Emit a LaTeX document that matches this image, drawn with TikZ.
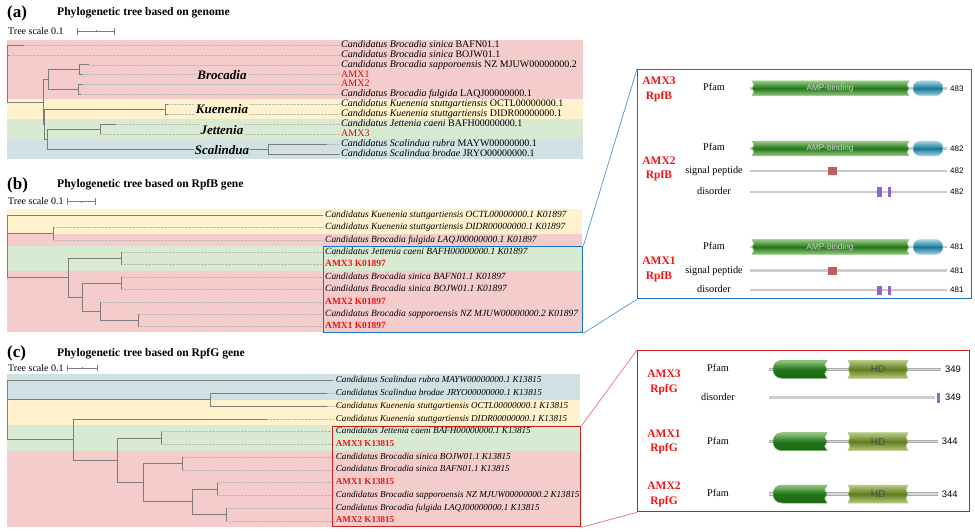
\documentclass[tikz,border=0pt]{standalone}
\usepackage{fontspec}
\setmainfont{Liberation Serif}
\newfontfamily\arialfont{Liberation Sans}
\usetikzlibrary{positioning}

\definecolor{bandpink}{RGB}{244,204,204}
\definecolor{bandyel}{RGB}{255,242,204}
\definecolor{bandgrn}{RGB}{217,234,211}
\definecolor{bandblu}{RGB}{208,224,227}
\definecolor{brgray}{RGB}{125,125,125}
\definecolor{amxdark}{RGB}{215,10,10}
\definecolor{amxred}{RGB}{240,20,20}
\definecolor{boxblue}{RGB}{25,115,195}
\definecolor{linkblue}{RGB}{80,150,215}
\definecolor{boxred}{RGB}{200,35,35}
\definecolor{linkred}{RGB}{225,115,115}
\definecolor{pfdark}{RGB}{34,118,26}
\definecolor{pflight}{RGB}{150,200,130}
\definecolor{tealdark}{RGB}{25,120,150}
\definecolor{teallight}{RGB}{160,210,225}
\definecolor{hddark}{RGB}{95,125,30}
\definecolor{hdlight}{RGB}{185,200,130}
\definecolor{sigred}{RGB}{190,95,95}
\definecolor{dispurple}{RGB}{150,100,200}

\tikzset{
  branch/.style={draw=brgray, line width=0.7pt},
  guide/.style={draw=black!28, densely dotted, line width=0.4pt, shorten >=1.5pt},
  leafa/.style={anchor=west, inner sep=0pt, text height=6.8pt, text depth=2pt, font=\fontsize{10}{10}\selectfont},
  amxa/.style={leafa, text=amxdark},
  leafb/.style={anchor=west, inner sep=0pt, text height=6.5pt, text depth=2pt, font=\fontsize{9.45}{10}\selectfont\itshape},
  amxb/.style={leafb, text=amxred, font=\fontsize{9.45}{10}\selectfont\bfseries},
  leafc/.style={anchor=west, inner sep=0pt, text height=6.3pt, text depth=2pt, font=\fontsize{9.1}{10}\selectfont\itshape},
  amxc/.style={leafc, text=amxred, font=\fontsize{9.1}{10}\selectfont\bfseries},
  panellab/.style={anchor=west, inner sep=0pt, font=\fontsize{17}{17}\selectfont\bfseries},
  paneltitle/.style={anchor=west, inner sep=0pt, font=\fontsize{11.6}{12}\selectfont\bfseries},
  scaletxt/.style={anchor=west, inner sep=0pt, font=\fontsize{10}{10}\selectfont},
  scalebar/.style={draw=brgray, line width=0.6pt, |-|},
  clade/.style={inner sep=1pt, font=\fontsize{13}{13}\selectfont\bfseries\itshape},
  selbox/.style={draw, line width=1.3pt, inner sep=0pt, anchor=north west},
  link/.style={line width=0.7pt},
  protname/.style={align=center, text=amxred, inner sep=0pt, font=\fontsize{11.5}{14.5}\selectfont\bfseries},
  rowlab/.style={inner sep=0pt, text height=7pt, text depth=2pt, font=\fontsize{10.3}{11}\selectfont},
  seqline/.style={draw=black!20, line width=2.6pt},
  seqdouble/.style={draw=black!33, double=black!15, double distance=1.4pt, line width=0.9pt},
  ampdom/.style={draw=pflight, line width=0.5pt, top color=pflight, bottom color=pflight, middle color=pfdark},
  tealdom/.style={draw=teallight, line width=0.5pt, rounded corners=7pt, top color=teallight, bottom color=teallight, middle color=tealdark},
  pfgdom/.style={draw=pflight!70!pfdark, line width=0.5pt, top color=pflight, bottom color=pfdark!85!black, middle color=pfdark},
  hddom/.style={draw=hdlight, line width=0.5pt, top color=hdlight, bottom color=hdlight, middle color=hddark},
  domtxt/.style={inner sep=0pt, text=white!82!black, font=\arialfont\fontsize{8.2}{9}\selectfont},
  hdtxt/.style={inner sep=0pt, text=black!70, font=\arialfont\fontsize{10}{10}\selectfont},
  seqnum/.style={anchor=west, inner sep=0pt, font=\arialfont\fontsize{8}{9}\selectfont},
  seqnumg/.style={anchor=west, inner sep=0pt, font=\arialfont\fontsize{9.4}{10}\selectfont},
}

% domain with jagged ends: style, x left, x right, y, half height
\newcommand{\zigdom}[5]{%
  \path[#1] (#2,#4-#5) -- (#3,#4-#5) -- ++(-2,#5/2) -- ++(2,#5/2) -- ++(-2,#5/2) -- ++(2,#5/2)
    -- (#2,#4+#5) -- ++(2,-#5/2) -- ++(-2,-#5/2) -- ++(2,-#5/2) -- cycle;}
% RpfB rows: y, length, name
\newcommand{\ampbar}[3]{%
  \draw[seqline] (750,#1) -- (947,#1);
  \zigdom{ampdom}{752}{909}{#1}{7.3}
  \path[tealdom] (913,#1-7.3) rectangle (943,#1+7.3);
  \node[domtxt] (#3t) at (830,#1) {AMP-binding};
  \node[seqnum] (#3n) at (950,#1) {#2};}
\newcommand{\sigbar}[3]{%
  \draw[seqline] (750,#1) -- (947,#1);
  \fill[sigred] (828,#1-4) rectangle (837,#1+4);
  \node[seqnum] (#3n) at (950,#1) {#2};}
\newcommand{\disbar}[3]{%
  \draw[seqline] (750,#1) -- (947,#1);
  \fill[dispurple] (877,#1-4.5) rectangle (882,#1+4.5);
  \fill[dispurple] (887.5,#1-4.5) rectangle (890.5,#1+4.5);
  \node[seqnum] (#3n) at (950,#1) {#2};}
% RpfG rows: y, length, x of length, name
\newcommand{\hdbar}[4]{%
  \draw[seqdouble] (769,#1) -- (#3-4,#1);
  \path[pfgdom] (827,#1-9) -- (782,#1-9) .. controls (770,#1-9) and (770,#1+9) .. (782,#1+9)
    -- (827,#1+9) -- (824.5,#1+4.5) -- (827,#1) -- (824.5,#1-4.5) -- cycle;
  \zigdom{hddom}{848}{908}{#1}{9}
  \node[hdtxt] (#4t) at (878,#1) {HD};
  \node[seqnumg] (#4n) at (#3,#1) {#2};}

\begin{document}
\begin{tikzpicture}[x=1pt,y=-1pt]
  \useasboundingbox (0,0) rectangle (975,532);

  % (a) genome tree
  \fill[bandpink] (7,40) rectangle (583,99.4);
  \fill[bandyel] (7,99.4) rectangle (583,119.2);
  \fill[bandgrn] (7,119.2) rectangle (583,139);
  \fill[bandblu] (7,139) rectangle (583,158.8);

  \node[panellab] (pa) at (7,13) {(a)};
  \node[paneltitle] (ha) at (57,13) {Phylogenetic tree based on genome};
  \node[scaletxt] (sa) at (8,31.5) {Tree scale 0.1};
  \draw[scalebar] (77,31.5) -- (115,31.5);
  \draw[branch, line width=0.5pt] (96,30.5) -- (96,32.5);

  \node[leafa] (ta0) at (341,45) {\textit{Candidatus Brocadia sinica} BAFN01.1};
  \node[leafa] (ta1) at (341,54.9) {\textit{Candidatus Brocadia sinica} BOJW01.1};
  \node[leafa] (ta2) at (341,64.8) {\textit{Candidatus Brocadia sapporoensis} NZ MJUW00000000.2};
  \node[amxa] (ta3) at (341,74.7) {AMX1};
  \node[amxa] (ta4) at (341,84.6) {AMX2};
  \node[leafa] (ta5) at (341,94.5) {\textit{Candidatus Brocadia fulgida} LAQJ00000000.1};
  \node[leafa] (ta6) at (341,104.4) {\textit{Candidatus Kuenenia stuttgartiensis} OCTL00000000.1};
  \node[leafa] (ta7) at (341,114.3) {\textit{Candidatus Kuenenia stuttgartiensis} DIDR00000000.1};
  \node[leafa] (ta8) at (341,124.2) {\textit{Candidatus Jettenia caeni} BAFH00000000.1};
  \node[amxa] (ta9) at (341,134.1) {AMX3};
  \node[leafa] (ta10) at (341,144) {\textit{Candidatus Scalindua rubra} MAYW00000000.1};
  \node[leafa] (ta11) at (341,153.9) {\textit{Candidatus Scalindua brodae} JRYO00000000.1};

  \coordinate (ar) at (7,73.45);
  \coordinate (la0) at (24,45);
  \coordinate (la1) at (9,54.9);
  \coordinate (an1) at (43,101.9);
  \coordinate (abr) at (48,79.65);
  \coordinate (ab1) at (79,69.75);
  \coordinate (ab2) at (78,89.55);
  \coordinate (la2) at (89,64.8);
  \coordinate (la3) at (83,74.7);
  \coordinate (la4) at (83,84.6);
  \coordinate (la5) at (81,94.5);
  \coordinate (an2) at (44.5,124.2);
  \coordinate (aku) at (165,109.35);
  \coordinate (la6) at (168,104.4);
  \coordinate (la7) at (168,114.3);
  \coordinate (an3) at (47,139.05);
  \coordinate (aje) at (100,129.15);
  \coordinate (la8) at (116,124.2);
  \coordinate (la9) at (100,134.1);
  \coordinate (asc) at (268,148.95);
  \coordinate (la10) at (327,144);
  \coordinate (la11) at (339,153.9);

  \foreach \i in {0,...,11}
    \draw[guide] (la\i) -- (ta\i.west);
  \draw[branch] (ar) |- (la0) (ar) |- (la1) (ar) |- (an1)
    (an1) |- (abr) (an1) |- (an2)
    (abr) |- (ab1) (abr) |- (ab2)
    (ab1) |- (la2) (ab1) |- (la3) (ab2) |- (la4) (ab2) |- (la5)
    (an2) |- (aku) (an2) |- (an3)
    (aku) |- (la6) (aku) |- (la7)
    (an3) |- (aje) (an3) |- (asc)
    (aje) |- (la8) (aje) |- (la9)
    (asc) |- (la10) (asc) |- (la11);

  \node[clade, fill=bandpink] (cbro) at (222,75) {Brocadia};
  \node[clade, fill=bandyel] (ckue) at (222,109.3) {Kuenenia};
  \node[clade, fill=bandgrn] (cjet) at (222,130) {Jettenia};
  \node[clade, fill=bandblu] (csca) at (222,150) {Scalindua};

  % (b) RpfB tree
  \fill[bandyel] (7,208.8) rectangle (582,233.6);
  \fill[bandpink] (7,233.6) rectangle (582,246);
  \fill[bandgrn] (7,246) rectangle (582,270.8);
  \fill[bandpink] (7,270.8) rectangle (582,332.4);

  \node[panellab] (pb) at (7,185) {(b)};
  \node[paneltitle] (hb) at (57,185) {Phylogenetic tree based on RpfB gene};
  \node[scaletxt] (sb) at (8,201.5) {Tree scale 0.1};
  \draw[scalebar] (67,201.5) -- (96,201.5);
  \draw[branch, line width=0.5pt] (81.5,200.5) -- (81.5,202.5);

  \node[leafb] (tb0) at (325,215) {Candidatus Kuenenia stuttgartiensis OCTL00000000.1 K01897};
  \node[leafb] (tb1) at (325,227.4) {Candidatus Kuenenia stuttgartiensis DIDR00000000.1 K01897};
  \node[leafb] (tb2) at (325,239.8) {Candidatus Brocadia fulgida LAQJ00000000.1 K01897};
  \node[leafb] (tb3) at (325,252.2) {Candidatus Jettenia caeni BAFH00000000.1 K01897};
  \node[amxb] (tb4) at (325,264.6) {AMX3 K01897};
  \node[leafb] (tb5) at (325,277) {Candidatus Brocadia sinica BAFN01.1 K01897};
  \node[leafb] (tb6) at (325,289.4) {Candidatus Brocadia sinica BOJW01.1 K01897};
  \node[amxb] (tb7) at (325,301.8) {AMX2 K01897};
  \node[leafb] (tb8) at (325,314.2) {Candidatus Brocadia sapporoensis NZ MJUW00000000.2 K01897};
  \node[amxb] (tb9) at (325,326.6) {AMX1 K01897};

  \coordinate (br) at (7,246.4);
  \coordinate (lb0) at (323,215);
  \coordinate (bp1) at (53,233.6);
  \coordinate (lb1) at (53,227.4);
  \coordinate (lb2) at (53,239.8);
  \coordinate (bp2) at (68,277.8);
  \coordinate (bje) at (121,258.4);
  \coordinate (lb3) at (121,252.2);
  \coordinate (lb4) at (121,264.6);
  \coordinate (bp3) at (82,297.15);
  \coordinate (bsi) at (121,283.2);
  \coordinate (lb5) at (121,277);
  \coordinate (lb6) at (121,289.4);
  \coordinate (bp4) at (100,311.1);
  \coordinate (lb7) at (100,301.8);
  \coordinate (bp5) at (138,320.4);
  \coordinate (lb8) at (138,314.2);
  \coordinate (lb9) at (138,326.6);

  \foreach \i in {1,...,9}
    \draw[guide] (lb\i) -- (tb\i.west);
  \draw[branch] (br) |- (lb0) (br) |- (bp1) (br) |- (bp2)
    (bp1) |- (lb1) (bp1) |- (lb2)
    (bp2) |- (bje) (bp2) |- (bp3)
    (bje) |- (lb3) (bje) |- (lb4)
    (bp3) |- (bsi) (bp3) |- (bp4)
    (bsi) |- (lb5) (bsi) |- (lb6)
    (bp4) |- (lb7) (bp4) |- (bp5)
    (bp5) |- (lb8) (bp5) |- (lb9);

  % (c) RpfG tree
  \fill[bandblu] (7,374.3) rectangle (580,399.8);
  \fill[bandyel] (7,399.8) rectangle (580,425.3);
  \fill[bandgrn] (7,425.3) rectangle (580,450.8);
  \fill[bandpink] (7,450.8) rectangle (580,527.1);

  \node[panellab] (pc) at (7,353.3) {(c)};
  \node[paneltitle] (hc) at (57,354) {Phylogenetic tree based on RpfG gene};
  \node[scaletxt] (sc) at (8,368) {Tree scale 0.1};
  \draw[scalebar] (67,368) -- (98,368);
  \draw[branch, line width=0.5pt] (82.5,367) -- (82.5,369);

  \node[leafc] (tc0) at (335.7,380.7) {Candidatus Scalindua rubra MAYW00000000.1 K13815};
  \node[leafc] (tc1) at (335.7,393.43) {Candidatus Scalindua brodae JRYO00000000.1 K13815};
  \node[leafc] (tc2) at (335.7,406.16) {Candidatus Kuenenia stuttgartiensis OCTL00000000.1 K13815};
  \node[leafc] (tc3) at (335.7,418.89) {Candidatus Kuenenia stuttgartiensis DIDR00000000.1 K13815};
  \node[leafc] (tc4) at (335.7,431.62) {Candidatus Jettenia caeni BAFH00000000.1 K13815};
  \node[amxc] (tc5) at (335.7,444.35) {AMX3 K13815};
  \node[leafc] (tc6) at (335.7,457.08) {Candidatus Brocadia sinica BOJW01.1 K13815};
  \node[leafc] (tc7) at (335.7,469.81) {Candidatus Brocadia sinica BAFN01.1 K13815};
  \node[amxc] (tc8) at (335.7,482.54) {AMX1 K13815};
  \node[leafc] (tc9) at (335.7,495.27) {Candidatus Brocadia sapporoensis NZ MJUW00000000.2 K13815};
  \node[leafc] (tc10) at (335.7,508) {Candidatus Brocadia fulgida LAQJ00000000.1 K13815};
  \node[amxc] (tc11) at (335.7,520.73) {AMX2 K13815};

  \coordinate (cr) at (7,410.15);
  \coordinate (lc0) at (333,380.7);
  \coordinate (cq1) at (210,399.8);
  \coordinate (lc1) at (327,393.43);
  \coordinate (lc2) at (327,406.16);
  \coordinate (cq2) at (73,439.6);
  \coordinate (lc3) at (267,418.89);
  \coordinate (cq3) at (117,460.25);
  \coordinate (cje) at (161,438);
  \coordinate (lc4) at (161,431.62);
  \coordinate (lc5) at (161,444.35);
  \coordinate (cq4) at (143,482.5);
  \coordinate (csi) at (182,463.45);
  \coordinate (lc6) at (182,457.08);
  \coordinate (lc7) at (182,469.81);
  \coordinate (cq5) at (192,501.6);
  \coordinate (cr3) at (217,488.9);
  \coordinate (lc8) at (217,482.54);
  \coordinate (lc9) at (217,495.27);
  \coordinate (cr4) at (226,514.35);
  \coordinate (lc10) at (226,508);
  \coordinate (lc11) at (226,520.73);

  \foreach \i in {1,...,11}
    \draw[guide] (lc\i) -- (tc\i.west);
  \draw[branch] (cr) |- (lc0) (cr) |- (cq1) (cr) |- (cq2)
    (cq1) |- (lc1) (cq1) |- (lc2)
    (cq2) |- (lc3) (cq2) |- (cq3)
    (cq3) |- (cje) (cq3) |- (cq4)
    (cje) |- (lc4) (cje) |- (lc5)
    (cq4) |- (csi) (cq4) |- (cq5)
    (csi) |- (lc6) (csi) |- (lc7)
    (cq5) |- (cr3) (cq5) |- (cr4)
    (cr3) |- (lc8) (cr3) |- (lc9)
    (cr4) |- (lc10) (cr4) |- (lc11);

  % selection boxes and zoom panels
  \node[selbox, draw=boxblue, minimum width=259pt, minimum height=86pt] (bsel) at (323,246) {};
  \node[selbox, draw=boxblue, minimum width=334pt, minimum height=229pt] (bdom) at (637,69) {};
  \draw[link, linkblue] (bsel.north east) -- (bdom.north west)
    (bsel.south east) -- (bdom.south west);
  \node[selbox, draw=boxred, minimum width=248pt, minimum height=100pt] (csel) at (332,426) {};
  \node[selbox, draw=boxred, minimum width=332pt, minimum height=161pt] (cdom) at (637,350) {};
  \draw[link, linkred] (csel.north east) -- (cdom.north west)
    (csel.south east) -- (cdom.south west);

  % RpfB domains
  \node[protname] (n3b) at (659,89.2) {AMX3\\RpfB};
  \node[rowlab] (r3bp) at (714,88.3) {Pfam};
  \ampbar{88.3}{483}{p3b}

  \node[protname] (n2b) at (659,169) {AMX2\\RpfB};
  \node[rowlab] (r2bp) at (714,148.5) {Pfam};
  \node[rowlab] (r2bs) at (714,171) {signal peptide};
  \node[rowlab] (r2bd) at (714,192) {disorder};
  \ampbar{148.5}{482}{p2b}
  \sigbar{171}{482}{s2b}
  \disbar{192}{482}{d2b}

  \node[protname] (n1b) at (659,269.5) {AMX1\\RpfB};
  \node[rowlab] (r1bp) at (714,247) {Pfam};
  \node[rowlab] (r1bs) at (714,270.5) {signal peptide};
  \node[rowlab] (r1bd) at (714,290) {disorder};
  \ampbar{247}{481}{p1b}
  \sigbar{270.5}{481}{s1b}
  \disbar{290}{481}{d1b}

  % RpfG domains
  \node[protname] (n3g) at (664,382.5) {AMX3\\RpfG};
  \node[rowlab] (r3gp) at (718,369.3) {Pfam};
  \node[rowlab] (r3gd) at (718,397.7) {disorder};
  \hdbar{369.3}{349}{945}{p3g}
  \draw[seqline] (769,397.7) -- (935,397.7);
  \fill[dispurple] (936.5,392.7) rectangle (939.5,402.7);
  \node[seqnumg] (d3gn) at (945,397.7) {349};

  \node[protname] (n1g) at (664,442) {AMX1\\RpfG};
  \node[rowlab] (r1gp) at (718,441.7) {Pfam};
  \hdbar{441.7}{344}{941.7}{p1g}

  \node[protname] (n2g) at (664,494.3) {AMX2\\RpfG};
  \node[rowlab] (r2gp) at (718,494) {Pfam};
  \hdbar{494}{344}{941.7}{p2g}
\end{tikzpicture}
\end{document}
